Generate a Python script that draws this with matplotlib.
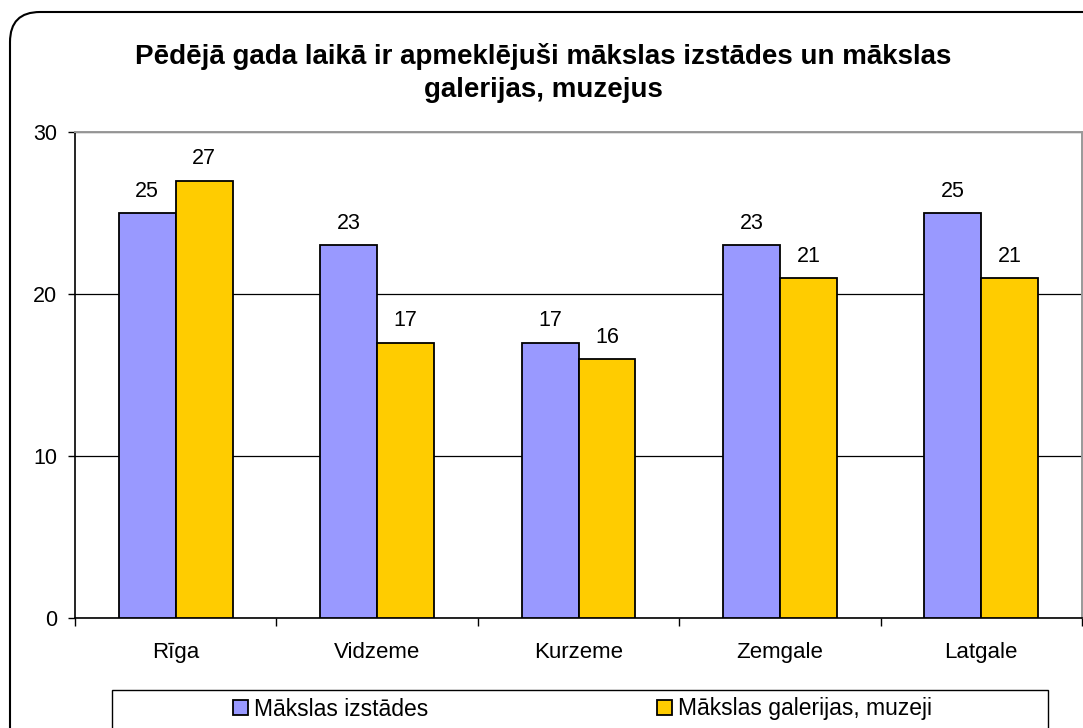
import matplotlib.pyplot as plt
import numpy as np
from matplotlib.patches import FancyBboxPatch, Rectangle

plt.rcParams.update({
    'font.family': ['Liberation Sans', 'DejaVu Sans'],
    'font.size': 16,
})

regions = ['Rīga', 'Vidzeme', 'Kurzeme', 'Zemgale', 'Latgale']
izstades = [25, 23, 17, 23, 25]
galerijas = [27, 17, 16, 21, 21]
series_names = ['Mākslas izstādes', 'Mākslas galerijas, muzeji']
title = 'Pēdējā gada laikā ir apmeklējuši mākslas izstādes un mākslas\ngalerijas, muzejus'

c_blue = '#9999FF'
c_yellow = '#FFCC00'

fig = plt.figure(figsize=(10.83, 7.28), dpi=100)

# rounded chart frame (runs off right and bottom edges)
frame = FancyBboxPatch((0.10, -0.5), 12.0, 7.16 + 0.5, boxstyle='round,pad=0,rounding_size=0.3',
                       transform=fig.dpi_scale_trans, facecolor='white', edgecolor='black',
                       linewidth=1.5, zorder=-2)
fig.patches.append(frame)

ax = fig.add_axes([75 / 1083, 110 / 728, 1007 / 1083, 486 / 728], zorder=1)
ax.set_facecolor('none')

x = np.arange(len(regions))
w = 0.283
b1 = ax.bar(x - w / 2, izstades, w, color=c_blue, edgecolor='black', linewidth=1.3, zorder=3,
            label=series_names[0])
b2 = ax.bar(x + w / 2, galerijas, w, color=c_yellow, edgecolor='black', linewidth=1.3, zorder=3,
            label=series_names[1])

for bars, vals in ((b1, izstades), (b2, galerijas)):
    for r, v in zip(bars, vals):
        ax.annotate(f'{v}', (r.get_x() + r.get_width() / 2, v), xytext=(0, 8),
                    textcoords='offset points', ha='center', va='bottom', fontsize=15.5)

ax.set_xlim(-0.5, len(regions) - 0.5)
ax.set_ylim(0, 30)
ax.set_yticks([0, 10, 20, 30])
ax.yaxis.grid(True, color='black', linewidth=0.9, zorder=1)
ax.set_axisbelow(True)

ax.set_xticks(x)
ax.set_xticklabels(regions, fontsize=16)
ax.tick_params(axis='x', length=0, pad=17)
ax.set_xticks(np.arange(len(regions) + 1) - 0.5, minor=True)
ax.tick_params(axis='x', which='minor', length=6, width=1, direction='out')
ax.tick_params(axis='y', length=5, width=1, direction='out', labelsize=15.5, pad=8)

for s in ('top', 'right'):
    ax.spines[s].set_color('#999999')
    ax.spines[s].set_linewidth(1.4)
ax.spines['left'].set_linewidth(1.2)
ax.spines['bottom'].set_linewidth(1.2)

fig.text(0.502, 1 - 73 / 728, title, ha='center', va='center', fontsize=20,
         fontweight='bold', linespacing=1.32)

# legend box
fig.patches.append(Rectangle((112 / 1083, -0.1), 936 / 1083, 0.1 + 38 / 728,
                             transform=fig.transFigure, facecolor='white',
                             edgecolor='black', linewidth=1.0, zorder=-1))
fig.legend(handles=[b1, b2], labels=series_names, loc='center left',
           bbox_to_anchor=(233 / 1083, 1 - 709 / 728), ncol=2, frameon=False,
           handlelength=0.65, handleheight=0.65, handletextpad=0.26,
           columnspacing=10.0, fontsize=16.5, borderpad=0, borderaxespad=0)

fig.savefig('out.png', dpi=100)
